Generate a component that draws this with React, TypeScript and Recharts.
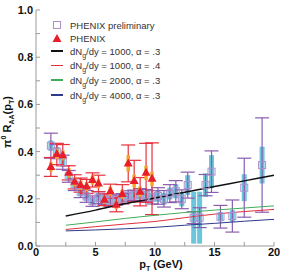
import { ComposedChart, XAxis, YAxis, Scatter, Line, ErrorBar } from "recharts";

// PHENIX preliminary (open squares, cyan sys boxes, purple stat bars)
const prelimPt = [1.25, 1.75, 2.25, 2.75, 3.25, 3.75, 4.25, 4.75, 5.25, 5.75, 6.25, 6.75, 7.25, 7.75, 8.25, 8.75, 9.25, 9.75, 10.25, 10.75, 11.25, 11.75, 12.25, 12.75, 13.25, 13.75, 14.25, 14.75, 15.5, 16.5, 17.5, 19.0];
const prelimRaa = [0.425, 0.4, 0.355, 0.295, 0.26, 0.23, 0.21, 0.19, 0.205, 0.198, 0.19, 0.195, 0.2, 0.212, 0.215, 0.218, 0.214, 0.206, 0.212, 0.2, 0.222, 0.232, 0.198, 0.258, 0.12, 0.12, 0.258, 0.315, 0.124, 0.127, 0.247, 0.343];
const prelimStat = [0.053, 0.03, 0.03, 0.025, 0.025, 0.025, 0.025, 0.022, 0.025, 0.022, 0.022, 0.022, 0.022, 0.022, 0.022, 0.025, 0.025, 0.028, 0.035, 0.035, 0.038, 0.045, 0.04, 0.055, 0.025, 0.042, 0.045, 0.088, 0.048, 0.068, 0.125, 0.2];
const prelimSys = [0.022, 0.02, 0.02, 0.02, 0.02, 0.02, 0.02, 0.018, 0.02, 0.018, 0.018, 0.018, 0.018, 0.018, 0.018, 0.02, 0.02, 0.02, 0.025, 0.025, 0.025, 0.03, 0.03, 0.042, 0.11, 0.11, 0.05, 0.07, 0.02, 0.025, 0.057, 0.078];

// PHENIX (red triangles, orange sys boxes, red stat bars)
const phenixPt = [1.25, 1.75, 2.25, 2.75, 3.25, 3.75, 4.25, 4.75, 5.25, 5.75, 6.25, 6.75, 7.25, 7.75, 8.25, 8.75, 9.25, 9.75];
const phenixRaa = [0.335, 0.39, 0.385, 0.31, 0.272, 0.258, 0.252, 0.28, 0.265, 0.196, 0.232, 0.175, 0.22, 0.35, 0.275, 0.23, 0.31, 0.285];
const phenixStat = [0.04, 0.045, 0.045, 0.03, 0.03, 0.03, 0.03, 0.03, 0.035, 0.025, 0.03, 0.03, 0.04, 0.078, 0.088, 0.06, 0.125, 0.152];
const phenixSys = [0.02, 0.022, 0.022, 0.02, 0.02, 0.02, 0.02, 0.02, 0.02, 0.018, 0.02, 0.018, 0.02, 0.035, 0.028, 0.022, 0.03, 0.03];

// theory curves
const curvePt = [2.5, 5, 7.5, 10, 12.5, 15, 17.5, 20];
const curveBlack = [0.127, 0.152, 0.18, 0.203, 0.228, 0.252, 0.276, 0.3];
const curveRed = [0.07, 0.082, 0.093, 0.104, 0.12, 0.135, 0.146, 0.155];
const curveGreen = [0.088, 0.102, 0.117, 0.13, 0.142, 0.152, 0.161, 0.17];
const curveNavy = [0.064, 0.068, 0.073, 0.079, 0.088, 0.096, 0.105, 0.113];

const xTicks = [0, 2.5, 5, 7.5, 10, 12.5, 15, 17.5, 20];
const yTicks = [0, 0.1, 0.2, 0.3, 0.4, 0.5, 0.6, 0.7, 0.8, 0.9, 1.0];

const FONT = "'Liberation Sans', Arial, sans-serif";
const FRAME = "#9a9a9a";

const points = (xs: number[], ys: number[], stat: number[], sys: number[]) =>
  xs.map((x, i) => ({ x, y: ys[i], stat: stat[i], sys: sys[i] }));
const curve = (ys: number[]) => curvePt.map((x, i) => ({ x, y: ys[i] }));

const prelimData = points(prelimPt, prelimRaa, prelimStat, prelimSys);
const phenixData = points(phenixPt, phenixRaa, phenixStat, phenixSys);

const OpenSquare = (p: any) => (
  <rect x={p.cx - 3.5} y={p.cy - 3.5} width={7} height={7} fill="none" stroke="#ad8fcc" strokeWidth={1} />
);
const RedTriangle = (p: any) => (
  <path d={`M${p.cx},${p.cy - 5}L${p.cx + 4.5},${p.cy + 3}L${p.cx - 4.5},${p.cy + 3}Z`} fill="#e81f2a" />
);

const curves = [
  { key: "black", ys: curveBlack, color: "#111111", width: 1.5, label: ["1000", ".3"] },
  { key: "red", ys: curveRed, color: "#e0303c", width: 1, label: ["1000", ".4"] },
  { key: "green", ys: curveGreen, color: "#3fae5a", width: 1, label: ["2000", ".3"] },
  { key: "navy", ys: curveNavy, color: "#2e3a8c", width: 1, label: ["4000", ".3"] },
];

const tickStyle = { fontFamily: FONT, fontSize: 11, fontWeight: 700, fill: "#111" };

const YLabel = ({ viewBox }: any) => {
  const cx = 11;
  const cy = viewBox.y + viewBox.height / 2 - 6;
  return (
    <text transform={`translate(${cx},${cy}) rotate(-90)`} textAnchor="middle" fontFamily={FONT} fontSize={11} fontWeight={700} fill="#111">
      π<tspan fontSize={7} dy={-5}>0</tspan>
      <tspan dy={5}> R</tspan>
      <tspan fontSize={7} dy={3}>AA</tspan>
      <tspan dy={-3}>(p</tspan>
      <tspan fontSize={7} dy={3}>T</tspan>
      <tspan dy={-3}>)</tspan>
    </text>
  );
};

const XLabel = ({ viewBox }: any) => (
  <text x={viewBox.x + viewBox.width / 2 + 6} y={268} textAnchor="middle" fontFamily={FONT} fontSize={11} fontWeight={700} fill="#111">
    p<tspan fontSize={7} dy={3}>T</tspan>
    <tspan dy={-3}> (GeV)</tspan>
  </text>
);

const legendText = { fontFamily: FONT, fontSize: 9.5, color: "#333", whiteSpace: "nowrap" as const };
const Sub = ({ children }: any) => <span style={{ fontSize: 7, position: "relative", top: 3 }}>{children}</span>;

function LegendBox() {
  const rowTops = [25, 38, 51, 65.5, 80, 95];
  const row = (i: number, marker: any, text: any) => (
    <div key={i} style={{ position: "absolute", left: 0, top: rowTops[i] - 7, height: 14, display: "flex", alignItems: "center" }}>
      <div style={{ width: 20, display: "flex", justifyContent: "center" }}>{marker}</div>
      <div style={{ ...legendText, marginLeft: 3 }}>{text}</div>
    </div>
  );
  return (
    <div style={{ position: "absolute", left: 47, top: 0, pointerEvents: "none" }}>
      {row(0, <div style={{ width: 6, height: 6, border: "1px solid #ad8fcc" }} />, "PHENIX preliminary")}
      {row(1, <svg width={10} height={9}><path d="M5,0L9.5,8L0.5,8Z" fill="#e81f2a" /></svg>, "PHENIX")}
      {curves.map((c, i) =>
        row(
          i + 2,
          <div style={{ width: 12, height: c.width + 0.5, background: c.color }} />,
          <span>
            dN<Sub>g</Sub>/dy = {c.label[0]}, α = {c.label[1]}
          </span>
        )
      )}
    </div>
  );
}

export default function App() {
  return (
    <div style={{ position: "absolute", left: 0, top: 0, width: 284, height: 273, background: "#fff" }}>
      <ComposedChart width={284} height={273} margin={{ top: 10, right: 10, bottom: 0, left: 0 }}>
        <XAxis
          dataKey="x"
          type="number"
          domain={[0, 20]}
          ticks={xTicks}
          interval={0}
          height={27}
          tickSize={-4}
          tickMargin={6}
          stroke={FRAME}
          tick={tickStyle}
          tickFormatter={(v: number) => (v % 5 === 0 ? String(v) : "")}
          label={<XLabel />}
        />
        <XAxis xAxisId="top" orientation="top" dataKey="x" type="number" domain={[0, 20]} ticks={xTicks} interval={0} height={0} tickSize={-4} tick={false} stroke={FRAME} />
        <YAxis
          type="number"
          domain={[0, 1]}
          ticks={yTicks}
          interval={0}
          width={36}
          tickSize={-4}
          tickMargin={7}
          stroke={FRAME}
          tick={tickStyle}
          tickFormatter={(v: number) => (Math.round(v * 10) % 2 === 0 ? v.toFixed(1) : "")}
          label={<YLabel />}
        />
        <YAxis yAxisId="right" orientation="right" type="number" domain={[0, 1]} ticks={yTicks} interval={0} width={0} tickSize={-4} tick={false} stroke={FRAME} />

        <Scatter data={prelimData} dataKey="y" shape={OpenSquare} isAnimationActive={false}>
          <ErrorBar dataKey="sys" direction="y" width={0} strokeWidth={5} stroke="#6cc6db" />
          <ErrorBar dataKey="stat" direction="y" width={7} strokeWidth={1.2} stroke="#8a5cae" />
        </Scatter>
        <Scatter data={phenixData} dataKey="y" shape={RedTriangle} isAnimationActive={false}>
          <ErrorBar dataKey="stat" direction="y" width={7} strokeWidth={1.2} stroke="#e8303c" />
          <ErrorBar dataKey="sys" direction="y" width={0} strokeWidth={3.5} stroke="#f5a524" />
        </Scatter>

        {curves.map((c) => (
          <Line
            key={c.key}
            data={curve(c.ys)}
            dataKey="y"
            type="monotone"
            stroke={c.color}
            strokeWidth={c.width}
            dot={false}
            activeDot={false}
            isAnimationActive={false}
          />
        ))}
      </ComposedChart>
      <LegendBox />
    </div>
  );
}
